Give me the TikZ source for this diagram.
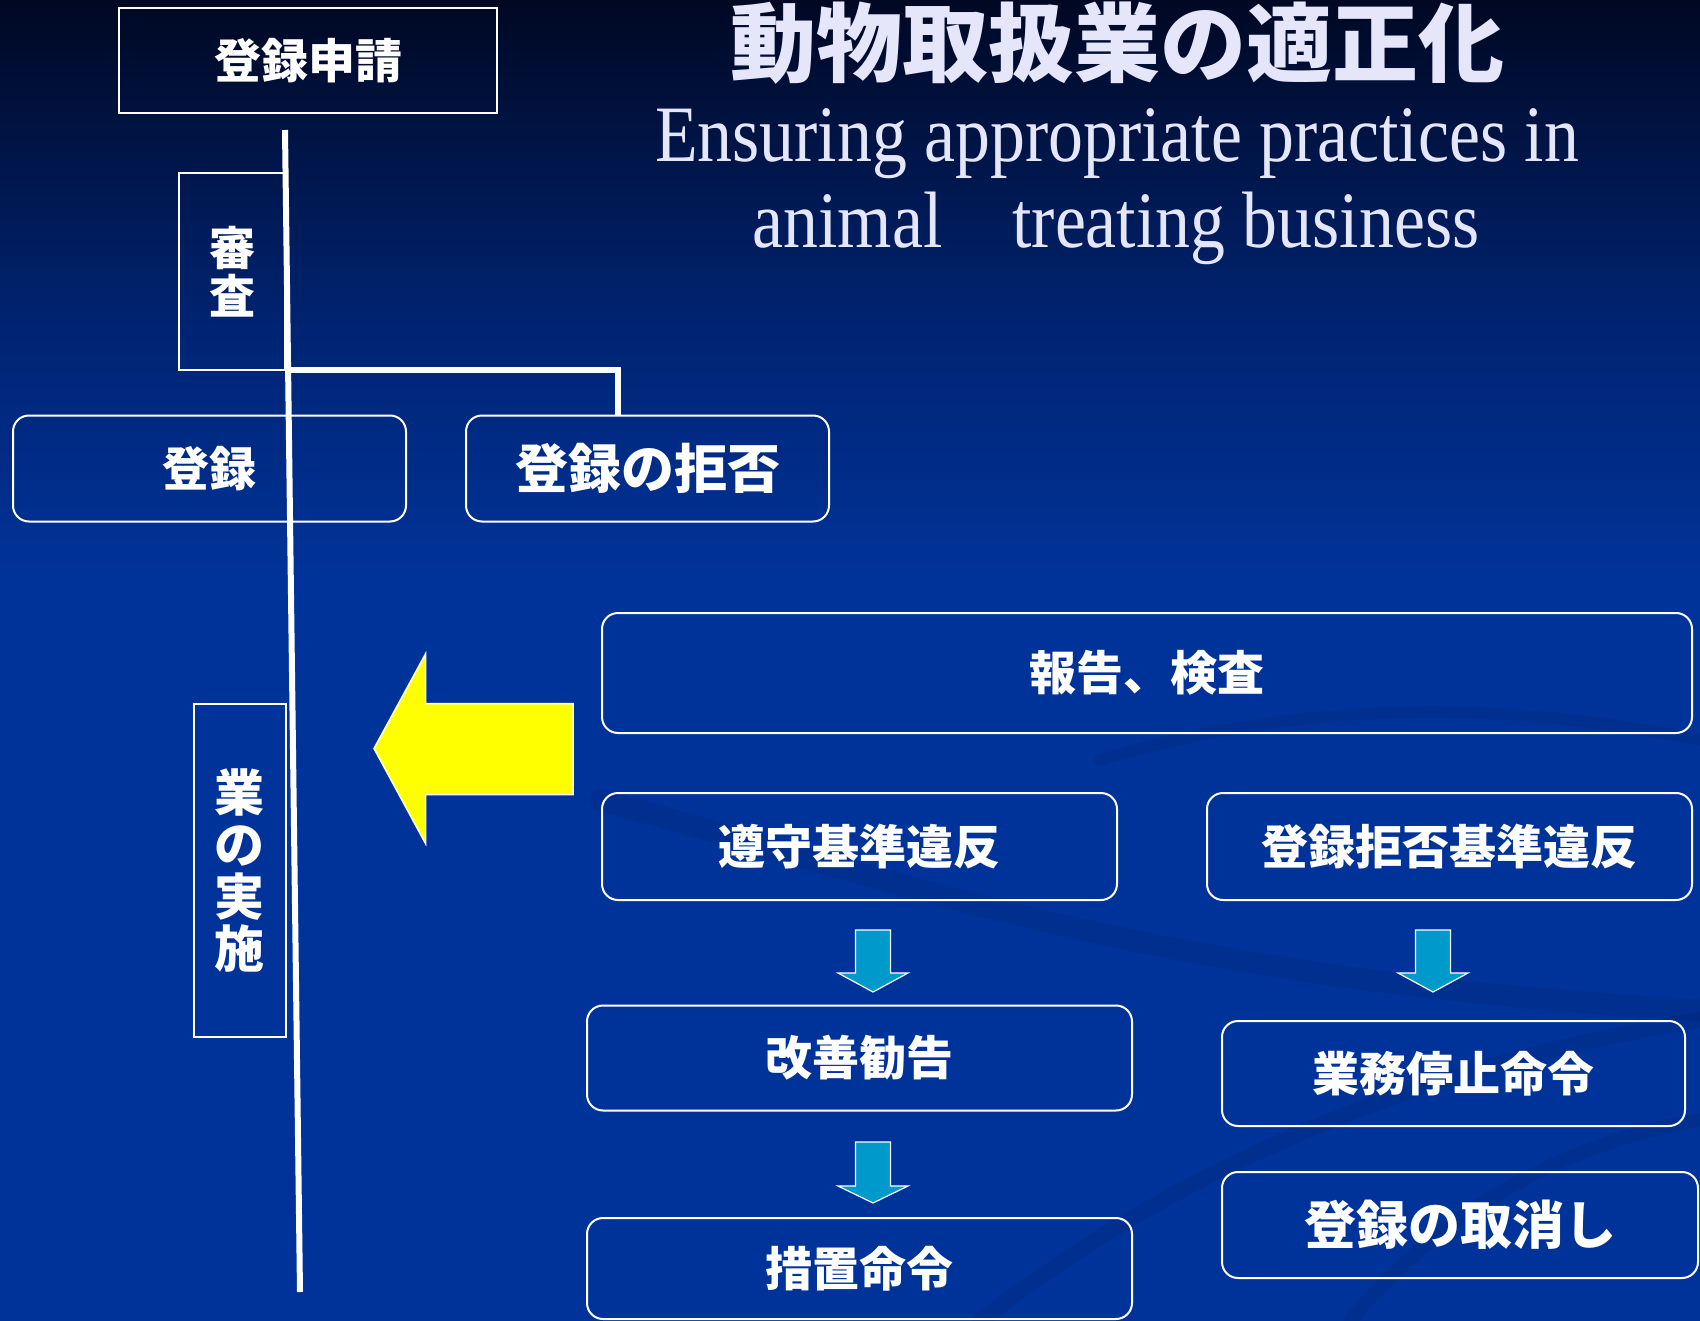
\documentclass[tikz,border=0pt]{standalone}
\usepackage{fontspec}
\newfontfamily\jp{Noto Sans CJK JP}
\newfontfamily\enserif{Liberation Serif}
\usetikzlibrary{calc}
\definecolor{bgtop}{RGB}{0,8,35}
\definecolor{bgmid}{RGB}{0,36,115}
\definecolor{bgbot}{RGB}{0,51,153}
\definecolor{bgdark}{RGB}{0,38,120}
\definecolor{lav}{RGB}{230,230,250}
\definecolor{ayellow}{RGB}{255,255,0}
\definecolor{ablue}{RGB}{0,153,204}
\newcommand{\dnarrow}[4]{% cx, top, head base, tip
  \filldraw[fill=ablue, draw=white, line width=1.2pt]
    (#1-17.5,#2) -- (#1+17.5,#2) -- (#1+17.5,#3) -- (#1+35,#3) -- (#1,#4)
    -- (#1-35,#3) -- (#1-17.5,#3) -- cycle;}
\begin{document}
\begin{tikzpicture}[x=1pt,y=-1pt,
  sbox/.style={draw=white, line width=2pt, text=white, inner sep=0pt,
    font=\jp\bfseries\fontsize{47}{52}\selectfont},
  rbox/.style={sbox, rounded corners=16pt},
  vbox/.style={sbox, align=center},
  conn/.style={draw=white, line width=6pt},
  ttl/.style={text=lav, inner sep=0pt}
]
\useasboundingbox (0,0) rectangle (1700,1321);
% background
\shade[top color=bgtop, bottom color=bgmid] (0,0) rectangle (1700,331);
\shade[top color=bgmid, bottom color=bgbot] (0,330) rectangle (1700,581);
\fill[bgbot] (0,580) rectangle (1700,1321);
% faint swirls
\begin{scope}[opacity=0.28, line cap=round]
\draw[bgdark, line width=22pt] (600,800) .. controls (900,880) and (1150,980) .. (1700,1010);
\draw[bgdark, line width=16pt] (980,1321) .. controls (1200,1150) and (1450,1060) .. (1700,1020);
\draw[bgdark, line width=12pt] (1100,760) .. controls (1300,700) and (1500,700) .. (1700,740);
\draw[bgdark, line width=14pt] (1350,1321) .. controls (1450,1200) and (1580,1140) .. (1700,1120);
\end{scope}
% title
\node[ttl, font=\jp\bfseries\fontsize{86}{90}\selectfont] (title) at (1117,43) {動物取扱業の適正化};
\node[ttl, anchor=base, font=\enserif\fontsize{80}{84}\selectfont] (en1) at (1117,162)
  {\scalebox{0.872}[1]{Ensuring appropriate practices in}};
\node[ttl, anchor=base, font=\enserif\fontsize{80}{84}\selectfont] (en2) at (1116,248)
  {\scalebox{0.872}[1]{animal\hspace{1em}treating business}};
% left column
\node[sbox, minimum width=378, minimum height=105] (apply) at (308,60.5) {登録申請};
\node[vbox, minimum width=106, minimum height=197, font=\jp\bfseries\fontsize{46}{48}\selectfont] (exam) at (232,271.5) {審\\査};
\node[rbox, minimum width=393, minimum height=106] (reg) at (209.5,468.5) {登録};
\node[rbox, minimum width=363, minimum height=106, font=\jp\bfseries\fontsize{53}{56}\selectfont] (reject) at (647.5,468.5) {登録の拒否};
\node[vbox, minimum width=92, minimum height=333, font=\jp\bfseries\fontsize{50}{52}\selectfont] (impl) at (239.5,870) {業\\の\\実\\施};
% right side boxes
\node[rbox, minimum width=1090, minimum height=120] (report) at (1147,673) {報告、検査};
\node[rbox, minimum width=515, minimum height=107] (viol1) at (859.5,846.5) {遵守基準違反};
\node[rbox, minimum width=485, minimum height=107] (viol2) at (1449.5,846.5) {登録拒否基準違反};
\node[rbox, minimum width=545, minimum height=105] (advice) at (859.5,1058) {改善勧告};
\node[rbox, minimum width=545, minimum height=101] (order) at (859.5,1268.5) {措置命令};
\node[rbox, minimum width=463, minimum height=105] (stop) at (1453.5,1073.5) {業務停止命令};
\node[rbox, minimum width=476, minimum height=106, font=\jp\bfseries\fontsize{52}{56}\selectfont] (cancel) at (1460,1225) {登録の取消し};
% main line and branch
\coordinate (ltop) at (285,130);
\coordinate (lbot) at (300,1292);
\draw[conn] (ltop) -- (lbot);
\coordinate (j) at ($(ltop)!0.2065!(lbot)$);
\draw[conn] (j) -| ([xshift=-30pt]reject.north);
% yellow arrow
\filldraw[fill=ayellow, draw=white, line width=1.5pt]
  (573,703.5) -- (425.5,703.5) -- (425.5,654) -- (374,748.5) -- (425.5,843.5)
  -- (425.5,794.5) -- (573,794.5) -- cycle;
% blue arrows
\dnarrow{873}{930}{973}{992}
\dnarrow{873}{1142}{1186}{1203}
\dnarrow{1433}{930}{973}{992}
\end{tikzpicture}
\end{document}
